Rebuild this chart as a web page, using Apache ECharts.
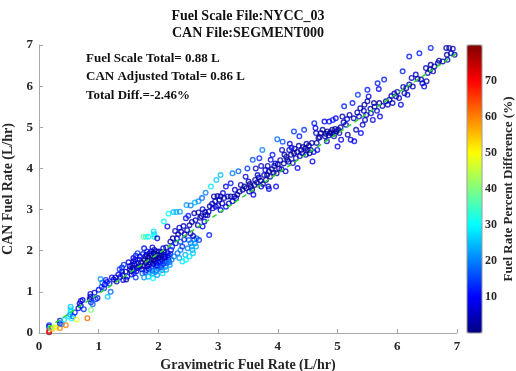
<!DOCTYPE html>
<html>
<head>
<meta charset="utf-8">
<script src="https://cdn.jsdelivr.net/npm/echarts@6/dist/echarts.min.js"></script>
<style>
  html, body { margin: 0; padding: 0; background: #fff; }
  #chart { width: 516px; height: 371px; }
</style>
</head>
<body>
<div id="chart"></div>
<script>
// Title and summary text
const titleLines = ['Fuel Scale File:NYCC_03', 'CAN File:SEGMENT000'];
const summaryLines = ['Fuel Scale Total= 0.88 L', 'CAN Adjusted Total= 0.86 L', 'Total Diff.=-2.46%'];
const xAxisName = 'Gravimetric Fuel Rate (L/hr)';
const yAxisName = 'CAN Fuel Rate (L/hr)';
const colorbarName = 'Fuel Rate Percent Difference (%)';

// Axis ranges
const rateRange = [0, 7];
const pctRange = [0, 80];

// Dashed reference line (gravimetric vs CAN)
const fitLine = [[0.15, 0.13], [7.0, 6.8]];

// Samples: [gravimetric L/hr, CAN L/hr, percent difference]
const lowRange = [
  [0.17, 0.02, 78], [0.17, 0.06, 70], [0.17, 0.15, 5], [0.17, 0.19, 12], [0.19, 0.12, 35],
  [0.22, 0.10, 55], [0.25, 0.14, 45], [0.30, 0.14, 50], [0.35, 0.12, 60], [0.35, 0.24, 12],
  [0.35, 0.30, 6], [0.38, 0.22, 20], [0.42, 0.32, 28], [0.45, 0.19, 60], [0.50, 0.40, 28],
  [0.52, 0.45, 22], [0.53, 0.52, 27], [0.53, 0.58, 30], [0.53, 0.64, 25], [0.55, 0.35, 30],
  [0.57, 0.40, 18], [0.60, 0.50, 12], [0.63, 0.33, 48], [0.66, 0.60, 10], [0.68, 0.72, 6],
  [0.70, 0.78, 5], [0.70, 0.66, 8], [0.73, 0.80, 10], [0.75, 0.58, 14], [0.81, 0.36, 62],
  [0.85, 0.82, 6], [0.86, 0.88, 4], [0.86, 0.95, 8], [0.87, 0.75, 12], [0.87, 0.56, 40],
  [0.90, 0.70, 18], [0.93, 0.98, 10], [0.95, 0.82, 14], [0.98, 0.85, 12]
];

const midLow = [
  [1.03, 1.31, 22], [1.06, 1.22, 20], [1.09, 1.09, 14], [1.12, 1.29, 12], [1.15, 0.88, 26],
  [1.20, 1.00, 18], [1.22, 1.35, 10], [1.28, 1.35, 8], [1.30, 1.25, 6], [1.39, 1.59, 12],
  [1.39, 1.49, 8], [1.40, 1.41, 6], [1.41, 1.29, 10], [1.45, 1.49, 5], [1.48, 1.37, 12],
  [1.52, 1.55, 8], [1.56, 1.65, 10], [1.58, 1.82, 6], [1.58, 1.74, 4], [1.59, 1.53, 3],
  [1.59, 1.45, 12], [1.62, 1.35, 15], [1.65, 1.94, 14], [1.68, 1.78, 6], [1.70, 1.61, 5],
  [1.73, 1.45, 18], [1.76, 1.35, 22], [1.42, 1.66, 14], [1.50, 1.72, 7], [1.46, 1.30, 3],
  [1.36, 1.36, 4], [1.55, 1.42, 9], [1.64, 1.58, 4], [1.66, 1.70, 10], [1.62, 1.88, 12],
  [1.00, 1.05, 10], [1.05, 1.12, 14], [1.10, 1.18, 10], [1.14, 1.24, 8], [1.18, 1.20, 12],
  [1.25, 1.30, 6], [1.33, 1.42, 10], [1.35, 1.55, 14]
];

const cluster = [
  [1.76, 2.06, 10], [1.78, 1.86, 5], [1.79, 1.70, 3], [1.80, 1.53, 8], [1.83, 1.37, 25],
  [1.85, 1.94, 6], [1.87, 1.78, 4], [1.89, 1.61, 12], [1.90, 1.45, 20], [1.91, 1.33, 30],
  [1.93, 2.02, 3], [1.94, 1.86, 2], [1.96, 1.70, 6], [1.97, 1.53, 15], [1.98, 1.41, 22],
  [2.01, 1.98, 4], [2.02, 1.82, 3], [2.04, 1.65, 10], [2.06, 1.53, 18], [2.08, 2.06, 8],
  [2.09, 1.90, 5], [2.11, 1.74, 12], [2.12, 1.61, 20], [2.15, 1.94, 6], [2.17, 1.78, 14],
  [2.19, 1.65, 22], [2.21, 2.02, 10], [1.82, 1.76, 2], [1.84, 1.66, 9], [1.88, 1.90, 1],
  [1.92, 1.78, 2], [1.95, 1.62, 16], [1.99, 1.90, 2], [2.03, 1.74, 8], [2.05, 1.96, 3],
  [2.10, 1.82, 6], [2.14, 1.70, 18], [2.00, 1.58, 20], [1.86, 1.48, 26], [2.07, 1.45, 28],
  [1.81, 1.98, 12], [1.90, 2.08, 8], [2.13, 2.08, 4], [2.18, 1.88, 10], [1.96, 1.78, 2]
];

const clusterCore = [
  [1.52, 1.62, 6], [1.54, 1.50, 4], [1.57, 1.58, 3], [1.60, 1.68, 5], [1.61, 1.78, 8],
  [1.63, 1.50, 10], [1.67, 1.62, 3], [1.69, 1.86, 9], [1.71, 1.72, 2], [1.72, 1.55, 6],
  [1.74, 1.92, 12], [1.75, 1.64, 2], [1.77, 1.78, 1], [1.78, 1.48, 14], [1.80, 1.90, 4],
  [1.81, 1.62, 3], [1.83, 1.84, 2], [1.84, 1.56, 10], [1.86, 1.72, 2], [1.88, 1.98, 6],
  [1.89, 1.52, 18], [1.91, 1.68, 4], [1.92, 1.94, 2], [1.94, 1.74, 3], [1.95, 1.48, 22],
  [1.97, 1.98, 5], [1.98, 1.64, 8], [2.00, 1.82, 2], [2.01, 1.70, 12], [2.03, 1.88, 3],
  [2.05, 1.60, 16], [2.06, 1.78, 5], [2.08, 1.68, 14], [2.10, 1.96, 4], [2.12, 1.86, 6],
  [2.13, 1.54, 24], [2.16, 1.84, 8], [2.18, 1.72, 18], [2.20, 1.92, 12], [2.22, 1.78, 20]
];

const upperBranch = [
  [1.75, 2.34, 38], [1.79, 2.34, 35], [1.83, 2.34, 30], [1.92, 2.47, 28], [1.93, 2.40, 27],
  [1.93, 2.34, 30], [1.98, 2.30, 4], [2.09, 2.71, 30], [2.17, 2.90, 30], [2.25, 2.94, 25],
  [2.30, 2.94, 24], [2.36, 2.95, 22], [2.15, 2.59, 8], [2.28, 2.48, 4], [2.35, 2.56, 7],
  [2.42, 2.60, 6], [2.46, 2.79, 10], [2.50, 2.85, 12], [2.47, 3.11, 22], [2.54, 3.10, 20],
  [2.61, 3.17, 24], [2.67, 3.20, 22]
];

const midBand = [
  [2.23, 2.10, 14], [2.29, 2.18, 10], [2.32, 1.94, 18], [2.35, 1.82, 22], [2.37, 2.02, 20],
  [2.40, 1.74, 28], [2.45, 1.90, 24], [2.46, 1.78, 30], [2.49, 2.06, 20], [2.51, 2.26, 18],
  [2.54, 2.18, 20], [2.56, 2.10, 22], [2.57, 2.02, 24], [2.58, 1.94, 26], [2.60, 2.27, 18],
  [2.61, 2.18, 22], [2.63, 2.10, 24], [2.64, 2.30, 20], [2.54, 2.42, 6], [2.58, 2.36, 4],
  [2.85, 2.38, 12], [2.68, 2.26, 14], [2.74, 2.59, 10], [2.43, 2.27, 12], [2.37, 2.22, 16],
  [2.26, 1.86, 20], [2.31, 2.30, 8], [2.44, 2.40, 5], [2.40, 2.10, 14], [2.52, 1.86, 28],
  [2.20, 2.22, 5], [2.24, 2.30, 3], [2.33, 2.40, 4], [2.38, 2.46, 3], [2.48, 2.50, 5],
  [2.52, 2.62, 4], [2.56, 2.70, 3], [2.62, 2.74, 5], [2.66, 2.62, 4], [2.72, 2.84, 3]
];

const upperMid = [
  [2.60, 2.91, 4], [2.67, 2.93, 5], [2.74, 3.01, 6], [2.77, 2.71, 8], [2.79, 2.87, 3],
  [2.73, 3.28, 18], [2.79, 3.41, 20], [2.88, 3.56, 28], [2.97, 3.72, 26], [3.04, 3.84, 25],
  [2.93, 3.32, 4], [2.99, 3.33, 3], [3.02, 3.24, 2], [3.04, 3.32, 4], [3.07, 3.15, 6],
  [3.10, 3.28, 3], [3.13, 3.07, 10], [3.16, 3.32, 5], [3.18, 3.15, 4], [3.21, 3.32, 3],
  [3.24, 3.20, 5], [3.27, 3.32, 4], [3.30, 3.28, 6], [3.32, 3.36, 3], [3.13, 3.56, 10],
  [3.21, 3.64, 12], [3.24, 3.88, 20], [3.34, 3.93, 18], [2.96, 3.07, 8], [3.04, 2.99, 10],
  [2.91, 3.03, 7], [2.84, 2.95, 4], [3.08, 3.40, 8], [3.28, 3.48, 6], [2.70, 2.80, 3],
  [2.78, 2.94, 4], [2.82, 2.86, 5], [2.86, 3.08, 3], [2.90, 3.14, 6], [2.95, 3.20, 4],
  [3.00, 3.10, 5]
];

const upperRange = [
  [3.41, 3.48, 3], [3.44, 3.56, 2], [3.49, 4.00, 14], [3.51, 3.68, 4], [3.52, 3.44, 5],
  [3.55, 3.56, 3], [3.58, 4.21, 16], [3.59, 3.36, 8], [3.62, 3.72, 4], [3.66, 3.84, 6],
  [3.69, 4.25, 12], [3.72, 3.56, 5], [3.74, 4.45, 20], [3.77, 3.84, 4], [3.80, 3.72, 3],
  [3.83, 4.06, 4], [3.84, 3.56, 6], [3.85, 3.50, 8], [3.88, 4.21, 10], [3.91, 4.33, 12],
  [3.94, 4.06, 3], [3.97, 3.56, 10], [3.98, 3.88, 4], [3.99, 4.71, 18], [4.02, 4.00, 2],
  [4.08, 4.65, 16], [3.72, 4.06, 5], [3.63, 4.00, 6], [3.85, 3.93, 2], [3.46, 3.80, 8],
  [3.36, 3.44, 2], [3.38, 3.60, 4], [3.47, 3.52, 3], [3.53, 3.62, 2], [3.57, 3.48, 4],
  [3.61, 3.60, 2], [3.65, 3.66, 3], [3.68, 3.78, 5], [3.71, 3.70, 2], [3.75, 3.62, 4],
  [3.79, 3.96, 6], [3.82, 3.84, 2], [3.87, 3.80, 3], [3.90, 3.98, 4], [3.93, 3.90, 2],
  [3.96, 4.12, 6]
];

const highMid = [
  [4.07, 4.45, 5], [4.11, 4.33, 4], [4.13, 3.93, 8], [4.16, 4.21, 3], [4.19, 4.45, 6],
  [4.22, 4.33, 2], [4.25, 4.13, 4], [4.27, 4.90, 14], [4.27, 4.37, 3], [4.30, 4.25, 5],
  [4.33, 4.01, 10], [4.36, 4.78, 12], [4.39, 4.45, 2], [4.41, 4.37, 4], [4.44, 4.94, 14],
  [4.46, 4.49, 3], [4.47, 4.33, 6], [4.50, 4.45, 2], [4.53, 4.37, 3], [4.55, 4.45, 4],
  [4.58, 4.17, 10], [4.61, 5.10, 12], [4.63, 4.98, 10], [4.64, 4.86, 6], [4.66, 4.45, 8],
  [4.68, 4.74, 4], [4.20, 4.60, 8], [4.35, 4.55, 3], [4.00, 4.10, 3], [4.04, 4.20, 4],
  [4.06, 3.98, 6], [4.10, 4.12, 3], [4.14, 4.28, 2], [4.18, 4.16, 4], [4.23, 4.50, 8],
  [4.28, 4.48, 4], [4.32, 4.40, 2], [4.37, 4.30, 6], [4.42, 4.52, 3], [4.48, 4.60, 5],
  [4.52, 4.55, 2], [4.57, 4.62, 4], [4.60, 4.40, 8], [4.65, 4.62, 3], [4.70, 4.76, 2]
];

const highRange = [
  [4.72, 4.86, 2], [4.75, 4.94, 3], [4.78, 5.14, 10], [4.79, 4.78, 4], [4.82, 4.66, 6],
  [4.83, 4.90, 2], [4.86, 5.14, 10], [4.87, 4.86, 3], [4.91, 4.94, 2], [4.92, 5.18, 12],
  [4.94, 4.78, 5], [4.97, 5.22, 10], [4.98, 4.90, 3], [5.00, 4.53, 10], [5.03, 4.86, 4],
  [5.06, 4.70, 8], [5.08, 5.26, 4], [5.11, 5.51, 12], [5.14, 5.06, 6], [5.17, 4.82, 4],
  [5.22, 4.70, 8], [5.25, 5.59, 12], [5.28, 4.66, 10], [5.31, 4.94, 4], [5.34, 5.79, 14],
  [5.36, 5.26, 5], [4.80, 4.84, 2], [4.85, 4.80, 3], [4.89, 4.88, 2], [4.93, 4.84, 3],
  [4.96, 4.96, 2], [5.01, 4.94, 4], [5.05, 5.00, 3], [5.10, 5.12, 4], [5.16, 5.20, 6],
  [5.20, 5.30, 4], [5.27, 5.22, 5], [5.33, 5.36, 3]
];

const peakRange = [
  [5.39, 4.86, 10], [5.42, 5.06, 6], [5.45, 5.55, 3], [5.46, 5.18, 4], [5.50, 5.91, 12],
  [5.52, 5.75, 8], [5.50, 5.63, 4], [5.56, 5.34, 6], [5.59, 5.18, 8], [5.61, 5.59, 3],
  [5.67, 6.07, 12], [5.69, 5.93, 8], [5.70, 5.59, 2], [5.71, 5.26, 10], [5.78, 6.16, 12],
  [5.81, 5.63, 4], [5.84, 5.55, 6], [5.87, 5.67, 3], [5.92, 5.59, 5], [5.98, 5.75, 6],
  [6.03, 5.71, 4], [6.06, 5.55, 10], [6.09, 6.36, 12], [6.12, 5.83, 4], [6.15, 5.95, 3],
  [6.17, 5.79, 6], [6.20, 6.72, 12], [6.26, 5.99, 4], [6.31, 6.28, 6], [6.37, 6.80, 12],
  [6.40, 6.16, 4], [6.42, 6.07, 6], [6.45, 5.99, 8], [6.48, 6.44, 5], [6.49, 6.12, 4],
  [6.51, 6.32, 4], [6.56, 6.52, 4], [6.56, 6.93, 12], [6.62, 6.48, 3], [6.68, 6.56, 4],
  [6.76, 6.60, 3], [6.82, 6.93, 4], [6.83, 6.76, 3], [6.87, 6.93, 3], [6.93, 6.91, 5],
  [6.96, 6.76, 4], [6.84, 6.64, 4], [5.38, 5.46, 4], [5.44, 5.40, 6], [5.48, 5.30, 5],
  [5.55, 5.45, 4], [5.62, 5.50, 4], [5.66, 5.40, 6], [5.75, 5.52, 4], [5.90, 5.76, 4],
  [5.95, 5.82, 5], [6.00, 5.86, 3], [6.10, 5.98, 4], [6.20, 6.04, 4], [6.24, 6.20, 5],
  [6.34, 6.18, 3], [6.55, 6.40, 4], [6.60, 6.36, 5], [6.70, 6.62, 3], [6.90, 6.80, 4]
];

const samples = [].concat(lowRange, midLow, cluster, clusterCore, upperBranch, midBand,
  upperMid, upperRange, highMid, highRange, peakRange);

// Jet colormap stops, evenly spaced over the colour range
const jetStops = ['#000080', '#0000ff', '#0080ff', '#00ffff', '#80ff80', '#ffff00', '#ff8000', '#ff0000', '#800000'];

function hexToRgb(h) {
  return [parseInt(h.slice(1, 3), 16), parseInt(h.slice(3, 5), 16), parseInt(h.slice(5, 7), 16)];
}
function jetColor(v) {
  let t = (v - pctRange[0]) / (pctRange[1] - pctRange[0]);
  t = Math.max(0, Math.min(1, t));
  const seg = t * (jetStops.length - 1);
  const i = Math.min(Math.floor(seg), jetStops.length - 2);
  const f = seg - i;
  const a = hexToRgb(jetStops[i]), b = hexToRgb(jetStops[i + 1]);
  const c = a.map((x, k) => Math.round(x + (b[k] - x) * f));
  return 'rgb(' + c.join(',') + ')';
}

const serif = "'Liberation Serif', 'Times New Roman', serif";
const textColor = '#262626';
const lineColor = '#a8a8a8';

const chart = echarts.init(document.getElementById('chart'), null, { renderer: 'canvas' });

chart.setOption({
  animation: false,
  backgroundColor: '#fff',
  graphic: [
    {
      type: 'text', x: 248, y: 8,
      style: {
        text: titleLines.join('\n'), textAlign: 'center', textVerticalAlign: 'top',
        font: 'bold 14px ' + serif, fill: '#111', lineHeight: 17
      }
    },
    {
      type: 'text', x: 86, y: 49,
      style: {
        text: summaryLines.join('\n'), textVerticalAlign: 'top',
        font: 'bold 13px ' + serif, fill: '#111', lineHeight: 18.5
      }
    }
  ],
  grid: [
    { left: 39, right: 59, top: 45, bottom: 38, outerBoundsMode: 'none', containLabel: false },
    {
      left: 467, width: 15, top: 45, height: 288, outerBoundsMode: 'none', containLabel: false,
      show: true, borderColor: '#9a9a9a', borderWidth: 1, z: 6
    }
  ],
  xAxis: [
    {
      gridIndex: 0, type: 'value', min: rateRange[0], max: rateRange[1], interval: 1,
      name: xAxisName, nameLocation: 'middle', nameGap: 22,
      nameTextStyle: { fontFamily: serif, fontWeight: 'bold', fontSize: 14, color: textColor },
      axisLine: { show: true, lineStyle: { color: lineColor, width: 1 } },
      axisTick: { show: true, inside: true, length: 4, lineStyle: { color: lineColor } },
      axisLabel: { fontFamily: serif, fontWeight: 'bold', fontSize: 13, color: textColor, margin: 7 },
      splitLine: { show: false }
    },
    { gridIndex: 1, type: 'value', min: 0, max: 1, show: false }
  ],
  yAxis: [
    {
      gridIndex: 0, type: 'value', min: rateRange[0], max: rateRange[1], interval: 1,
      name: yAxisName, nameLocation: 'middle', nameGap: 14,
      nameTextStyle: { fontFamily: serif, fontWeight: 'bold', fontSize: 14, color: textColor },
      axisLine: { show: true, lineStyle: { color: lineColor, width: 1 } },
      axisTick: { show: true, inside: true, length: 4, lineStyle: { color: lineColor } },
      axisLabel: { fontFamily: serif, fontWeight: 'bold', fontSize: 13, color: textColor, margin: 6 },
      splitLine: { show: false }
    },
    {
      gridIndex: 1, type: 'value', position: 'right', min: pctRange[0], max: pctRange[1], interval: 10,
      name: colorbarName, nameLocation: 'middle', nameGap: 20, nameRotate: 90,
      nameTextStyle: { fontFamily: serif, fontWeight: 'bold', fontSize: 13, color: textColor },
      axisLine: { show: false },
      axisTick: { show: false },
      axisLabel: {
        fontFamily: serif, fontWeight: 'bold', fontSize: 12, color: textColor, margin: 3,
        formatter: v => (v > pctRange[0] && v < pctRange[1]) ? String(v) : ''
      },
      splitLine: { show: false }
    }
  ],
  visualMap: {
    type: 'continuous', min: pctRange[0], max: pctRange[1],
    seriesIndex: 2, dimension: 1,
    left: 467, top: 45, itemWidth: 15, itemHeight: 288, padding: 0,
    calculable: false, hoverLink: false, text: null, showLabel: false,
    inRange: { color: jetStops }
  },
  series: [
    {
      type: 'scatter', xAxisIndex: 0, yAxisIndex: 0,
      symbol: 'circle', symbolSize: 4.6,
      data: samples.map(s => ({
        value: s,
        itemStyle: { color: 'rgba(0,0,0,0)', borderColor: jetColor(s[2]), borderWidth: 1.4 }
      })),
      z: 2
    },
    {
      type: 'line', xAxisIndex: 0, yAxisIndex: 0, data: fitLine, symbol: 'none',
      lineStyle: { color: '#2ed62e', width: 1.5, type: [5, 4] },
      z: 3, silent: true
    },
    {
      // carrier for the colour bar
      type: 'scatter', xAxisIndex: 1, yAxisIndex: 1, data: [], silent: true
    }
  ]
});
</script>
</body>
</html>
